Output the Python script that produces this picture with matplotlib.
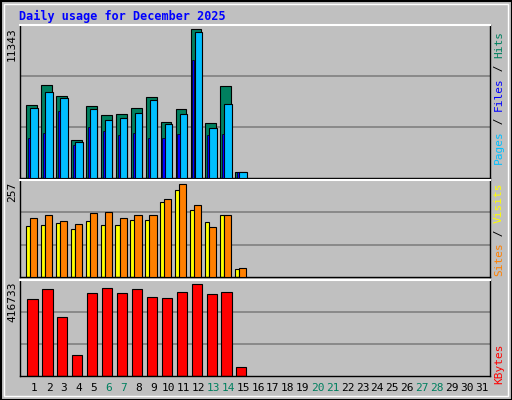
import matplotlib
matplotlib.use("Agg")
import matplotlib.pyplot as plt
from matplotlib.patches import Rectangle

days = list(range(1, 32))
hits   = [5569, 7109, 6262, 2874, 5492, 4799, 4876, 5338, 6185, 4260, 5261, 11343, 4183, 7032, 488]
files  = [5338, 6570, 6108, 2720, 5261, 4414, 4568, 4953, 5954, 4106, 4876, 11112, 3798, 5646, 488]
pages  = [3054, 3413, 5107, 2515, 3875, 3567, 3259, 3413, 3054, 3054, 3336, 9033, 3259, 3336, 488]
visits = [140, 143, 148, 132, 154, 143, 143, 157, 157, 207, 240, 185, 151, 171, 22]
sites  = [162, 171, 154, 146, 176, 179, 162, 171, 171, 215, 257, 199, 137, 171, 25]
kbytes = [348300, 393900, 266100, 97300, 375700, 398500, 375700, 393900, 357400, 352800, 380200, 416733, 371100, 380200, 42600]
weekends = [6, 7, 13, 14, 20, 21, 27, 28]
ymax_labels = ["11343", "257", "416733"]

W, H = 512, 400
fig = plt.figure(figsize=(W/100, H/100), dpi=100)
fig.patch.set_facecolor("#C0C0C0")
fig.add_artist(Rectangle((0.5/W, 0.5/H), (W-1)/W, (H-1)/H, transform=fig.transFigure,
                         fill=False, edgecolor="black", lw=1.5))
fig.add_artist(Rectangle((4/W, 4/H), (W-8)/W, (H-8)/H, transform=fig.transFigure,
                         fill=False, edgecolor="white", lw=1))

mono = "DejaVu Sans Mono"
fig.text(19/W, 1-16/H, "Daily usage for December 2025", color="#0000FF",
         family=mono, weight="bold", fontsize=8.5, va="center")

x0, x1 = 20, 490
def ax_px(top, bottom):
    a = fig.add_axes([x0/W, 1-bottom/H, (x1-x0)/W, (bottom-top)/H])
    a.set_facecolor("#C0C0C0")
    a.set_xlim(0.05, 31.55)
    a.set_xticks([]); a.set_yticks([])
    for s in a.spines.values():
        s.set_color("black"); s.set_linewidth(1)
    a.spines["top"].set_color("white"); a.spines["top"].set_linewidth(1.5)
    return a

ec = dict(edgecolor="black", linewidth=0.8)
d15 = days[:15]

a1 = ax_px(25, 178)
top1 = 11343*455/442
a1.set_ylim(0, top1)
for k in (1, 2):
    a1.axhline(top1*k/3, color="#808080", lw=1.2, zorder=0)
a1.bar([d - 0.52 for d in d15], hits, width=0.72, align="edge", color="#00805F", **ec, zorder=2)
a1.bar([d - 0.25 for d in d15], files, width=0.49, align="edge", color="#00BFFF", **ec, zorder=3)
a1.bar([d - 0.40 for d in d15], pages, width=0.14, align="edge", color="#0000FF", edgecolor="black", linewidth=0.5, zorder=4)

a2 = ax_px(180, 277)
top2 = 257*288/277
a2.set_ylim(0, top2)
for k in (1, 2):
    a2.axhline(top2*k/3, color="#808080", lw=1.2, zorder=0)
a2.bar([d - 0.55 for d in d15], visits, width=0.3, align="edge", color="#FFFF00", **ec, zorder=2)
a2.bar([d - 0.28 for d in d15], sites, width=0.48, align="edge", color="#FF8000", **ec, zorder=3)

a3 = ax_px(280, 376)
top3 = 416733*287/274
a3.set_ylim(0, top3)
for k in (1, 2):
    a3.axhline(top3*k/3, color="#808080", lw=1.2, zorder=0)
a3.bar([d - 0.45 for d in d15], kbytes, width=0.68, align="edge", color="#FF0000", **ec, zorder=2)

for lab, ytop in zip(ymax_labels, (27, 182, 282)):
    fig.text(12/W, 1-ytop/H, lab, rotation=90, family=mono, fontsize=8, va="top", ha="center")

for d in days:
    xp = x0 + (d - 0.05)/(31.5)*(x1-x0)
    fig.text(xp/W, 1-388/H, str(d), family=mono, fontsize=8, ha="center", va="center",
             color="#00805F" if d in weekends else "black")

cw = 6.6
def right_label(parts, ybottom):
    y = ybottom
    for txt, col in parts:
        fig.text(499/W, 1-y/H, txt, rotation=90, family=mono, fontsize=8,
                 color=col, ha="center", va="bottom")
        y -= cw*len(txt)

right_label([("Pages", "#00BFFF"), (" / ", "black"), ("Files", "#0000FF"), (" / ", "black"), ("Hits", "#00805F")], 164)
right_label([("Sites", "#FF8000"), (" / ", "black"), ("Visits", "#FFFF00")], 276)
right_label([("KBytes", "#FF0000")], 384)

fig.savefig("out.png", dpi=100, facecolor=fig.get_facecolor())
